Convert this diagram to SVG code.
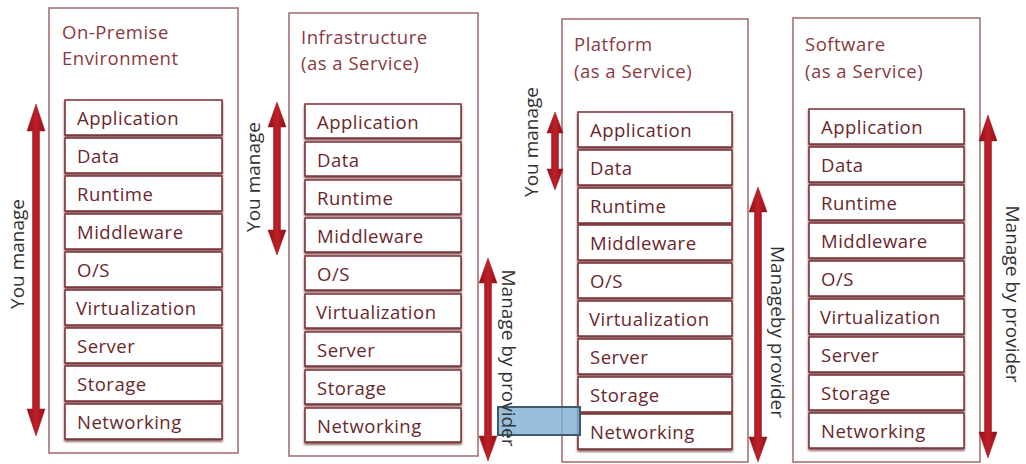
<svg xmlns="http://www.w3.org/2000/svg" width="1026" height="464" viewBox="0 0 1026 464">
  <defs>
    <filter id="shadow" x="-10%" y="-20%" width="120%" height="160%">
      <feDropShadow dx="0" dy="2" stdDeviation="0.8" flood-color="#5a1a1a" flood-opacity="0.75"/>
    </filter>
    <linearGradient id="arrowFill" x1="0" y1="0" x2="1" y2="0">
      <stop offset="0" stop-color="#8e0f14"/>
      <stop offset="0.5" stop-color="#c0202a"/>
      <stop offset="1" stop-color="#8e0f14"/>
    </linearGradient>
  </defs>
  <style>
    .panel { fill: #ffffff; stroke: #a06868; stroke-width: 1.5; }
    .layer rect { fill: #ffffff; stroke: #7a2e33; stroke-width: 1.5; filter: url(#shadow); }
    .layer text { font-family: "Open Sans", "DejaVu Sans", sans-serif; font-size: 18.5px; fill: #6a272b; letter-spacing: 0.5px; }
    .title { font-family: "Open Sans", "DejaVu Sans", sans-serif; font-size: 18.5px; fill: #8a3a40; letter-spacing: 0.5px; }
    .arrow { fill: url(#arrowFill); stroke: #9a141b; stroke-width: 0.5; }
    .side { font-family: "Open Sans", "DejaVu Sans", sans-serif; font-size: 19px; fill: #333333; text-anchor: middle; }
    .marker { fill: #7faed6; fill-opacity: 0.8; stroke: #3b5b70; stroke-width: 2; }
  </style>

  <!-- On-Premise column -->
  <g id="on-premise">
    <rect class="panel" x="49" y="8" width="189" height="445"/>
    <text class="title" x="62" y="39">On-Premise</text>
    <text class="title" x="62" y="65">Environment</text>
    <g id="op-application" class="layer"><rect x="65" y="100" width="157" height="35"/><text x="77" y="125">Application</text></g>
    <g id="op-data" class="layer"><rect x="65" y="138" width="157" height="35"/><text x="77" y="163">Data</text></g>
    <g id="op-runtime" class="layer"><rect x="65" y="176" width="157" height="35"/><text x="77" y="201">Runtime</text></g>
    <g id="op-middleware" class="layer"><rect x="65" y="214" width="157" height="35"/><text x="77" y="239">Middleware</text></g>
    <g id="op-os" class="layer"><rect x="65" y="252" width="157" height="35"/><text x="77" y="277">O/S</text></g>
    <g id="op-virtualization" class="layer"><rect x="65" y="290" width="157" height="35"/><text x="76" y="315">Virtualization</text></g>
    <g id="op-server" class="layer"><rect x="65" y="328" width="157" height="35"/><text x="77" y="353">Server</text></g>
    <g id="op-storage" class="layer"><rect x="65" y="366" width="157" height="35"/><text x="77" y="391">Storage</text></g>
    <g id="op-networking" class="layer"><rect x="65" y="404" width="157" height="35"/><text x="77" y="429">Networking</text></g>
  </g>

  <!-- Infrastructure as a Service column -->
  <g id="iaas">
    <rect class="panel" x="289" y="13" width="189" height="443"/>
    <text class="title" x="301" y="44">Infrastructure</text>
    <text class="title" x="301" y="70">(as a Service)</text>
    <g id="iaas-application" class="layer"><rect x="305" y="104" width="156" height="34"/><text x="317" y="129">Application</text></g>
    <g id="iaas-data" class="layer"><rect x="305" y="142" width="156" height="34"/><text x="317" y="167">Data</text></g>
    <g id="iaas-runtime" class="layer"><rect x="305" y="180" width="156" height="34"/><text x="317" y="205">Runtime</text></g>
    <g id="iaas-middleware" class="layer"><rect x="305" y="218" width="156" height="34"/><text x="317" y="243">Middleware</text></g>
    <g id="iaas-os" class="layer"><rect x="305" y="256" width="156" height="34"/><text x="317" y="281">O/S</text></g>
    <g id="iaas-virtualization" class="layer"><rect x="305" y="294" width="156" height="34"/><text x="316" y="319">Virtualization</text></g>
    <g id="iaas-server" class="layer"><rect x="305" y="332" width="156" height="34"/><text x="317" y="357">Server</text></g>
    <g id="iaas-storage" class="layer"><rect x="305" y="370" width="156" height="34"/><text x="317" y="395">Storage</text></g>
    <g id="iaas-networking" class="layer"><rect x="305" y="408" width="156" height="34"/><text x="317" y="433">Networking</text></g>
  </g>

  <!-- Platform as a Service column -->
  <g id="paas">
    <rect class="panel" x="562" y="19" width="186" height="443"/>
    <text class="title" x="574" y="51">Platform</text>
    <text class="title" x="574" y="78">(as a Service)</text>
    <g id="paas-application" class="layer"><rect x="578" y="112" width="154" height="35"/><text x="590" y="137">Application</text></g>
    <g id="paas-data" class="layer"><rect x="578" y="150" width="154" height="35"/><text x="590" y="175">Data</text></g>
    <g id="paas-runtime" class="layer"><rect x="578" y="188" width="154" height="35"/><text x="590" y="213">Runtime</text></g>
    <g id="paas-middleware" class="layer"><rect x="578" y="225" width="154" height="35"/><text x="590" y="250">Middleware</text></g>
    <g id="paas-os" class="layer"><rect x="578" y="263" width="154" height="35"/><text x="590" y="288">O/S</text></g>
    <g id="paas-virtualization" class="layer"><rect x="578" y="301" width="154" height="35"/><text x="589" y="326">Virtualization</text></g>
    <g id="paas-server" class="layer"><rect x="578" y="339" width="154" height="35"/><text x="590" y="364">Server</text></g>
    <g id="paas-storage" class="layer"><rect x="578" y="377" width="154" height="35"/><text x="590" y="402">Storage</text></g>
    <g id="paas-networking" class="layer"><rect x="578" y="414" width="154" height="35"/><text x="590" y="439">Networking</text></g>
  </g>

  <!-- Software as a Service column -->
  <g id="saas">
    <rect class="panel" x="793" y="18" width="187" height="444"/>
    <text class="title" x="805" y="51">Software</text>
    <text class="title" x="805" y="78">(as a Service)</text>
    <g id="saas-application" class="layer"><rect x="809" y="109" width="155" height="35"/><text x="821" y="134">Application</text></g>
    <g id="saas-data" class="layer"><rect x="809" y="147" width="155" height="35"/><text x="821" y="172">Data</text></g>
    <g id="saas-runtime" class="layer"><rect x="809" y="185" width="155" height="35"/><text x="821" y="210">Runtime</text></g>
    <g id="saas-middleware" class="layer"><rect x="809" y="223" width="155" height="35"/><text x="821" y="248">Middleware</text></g>
    <g id="saas-os" class="layer"><rect x="809" y="261" width="155" height="35"/><text x="821" y="286">O/S</text></g>
    <g id="saas-virtualization" class="layer"><rect x="809" y="299" width="155" height="35"/><text x="820" y="324">Virtualization</text></g>
    <g id="saas-server" class="layer"><rect x="809" y="337" width="155" height="35"/><text x="821" y="362">Server</text></g>
    <g id="saas-storage" class="layer"><rect x="809" y="375" width="155" height="35"/><text x="821" y="400">Storage</text></g>
    <g id="saas-networking" class="layer"><rect x="809" y="413" width="155" height="35"/><text x="821" y="438">Networking</text></g>
  </g>

  <!-- Responsibility arrows (double-headed) -->
  <g id="connectors">
    <path class="arrow" d="M36,104 L45,131 L39.5,131 L39.5,409 L45,409 L36,436 L27,409 L32.5,409 L32.5,131 L27,131 Z"/>
    <path class="arrow" d="M277,102 L286,127 L280.5,127 L280.5,230 L286,230 L277,255 L268,230 L273.5,230 L273.5,127 L268,127 Z"/>
    <path class="arrow" d="M488,258 L497,283 L491.5,283 L491.5,436 L497,436 L488,461 L479,436 L484.5,436 L484.5,283 L479,283 Z"/>
    <path class="arrow" d="M555,112 L563,133 L558.5,133 L558.5,169 L563,169 L555,190 L547,169 L551.5,169 L551.5,133 L547,133 Z"/>
    <path class="arrow" d="M758,187 L767,212 L761.5,212 L761.5,437 L767,437 L758,462 L749,437 L754.5,437 L754.5,212 L749,212 Z"/>
    <path class="arrow" d="M988,115 L997,141 L991.5,141 L991.5,432 L997,432 L988,458 L979,432 L984.5,432 L984.5,141 L979,141 Z"/>
  </g>

  <!-- Highlight box over the IaaS/PaaS boundary -->
  <rect class="marker" x="498" y="407" width="82" height="28"/>

  <!-- Side labels -->
  <text class="side" transform="translate(24,254) rotate(-90)">You manage</text>
  <text class="side" transform="translate(260,177) rotate(-90)">You manage</text>
  <text class="side" transform="translate(538,142) rotate(-90)">You manage</text>
  <text class="side" transform="translate(502,358) rotate(90)">Manage by provider</text>
  <text class="side" transform="translate(771,332) rotate(90)">Manageby provider</text>
  <text class="side" transform="translate(1006,294) rotate(90)">Manage by provider</text>
</svg>
